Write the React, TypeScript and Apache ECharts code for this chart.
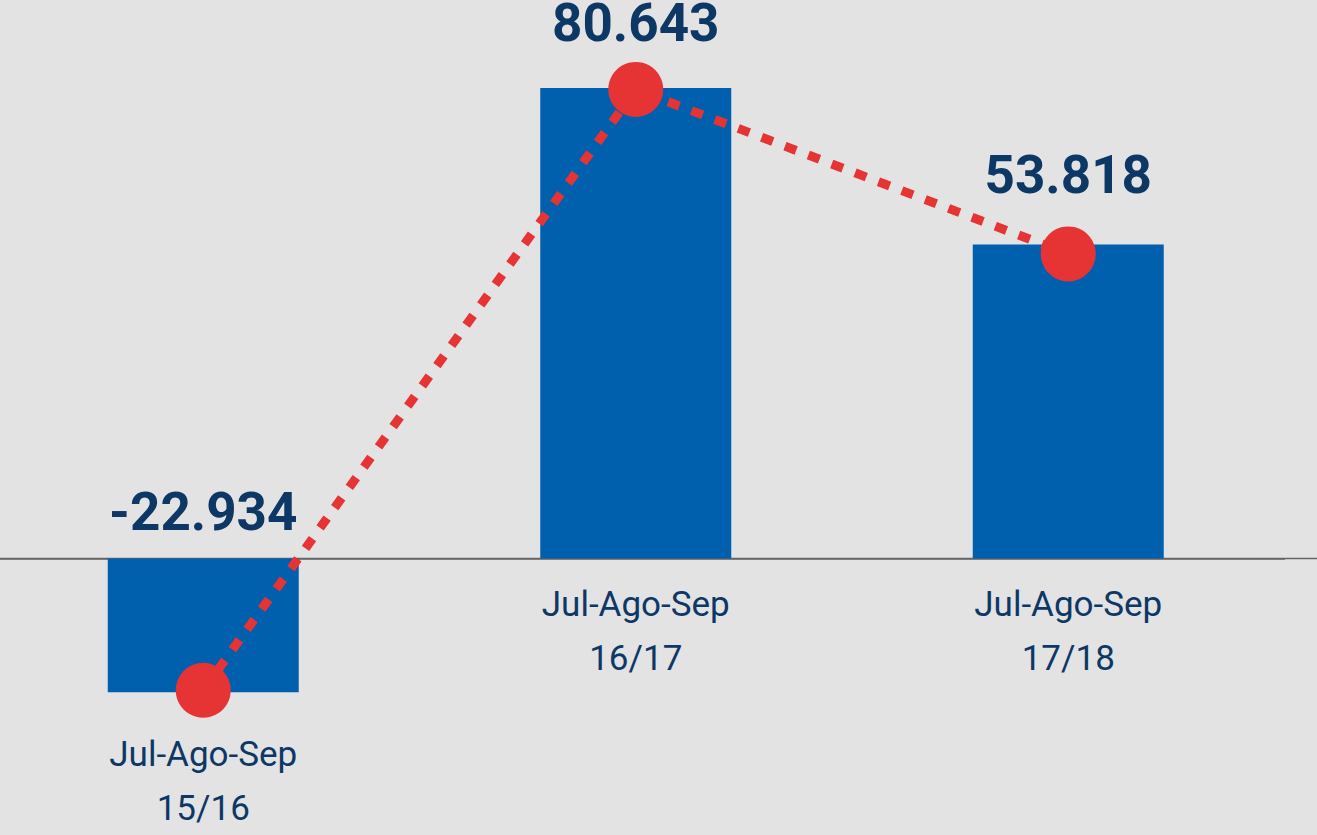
import React, { useEffect, useRef } from "react";
import * as echarts from "echarts";

const categories = ["Jul-Ago-Sep\n15/16", "Jul-Ago-Sep\n16/17", "Jul-Ago-Sep\n17/18"];
const barValues = [-22934, 80643, 53818];
const lineValues = [-22600, 80400, 52200];

const fmt = (n: number) => (n < 0 ? "-" : "") + String(Math.abs(n)).replace(/\B(?=(\d{3})+(?!\d))/g, ".");

export default function App() {
  const ref = useRef<HTMLDivElement>(null);
  useEffect(() => {
    document.body.style.overflow = "hidden";
    if (!ref.current) return;
    const chart = echarts.init(ref.current, null, { renderer: "svg" });
    const catDist = [35, 19, 19];
    const valDist = [24, 43, 47];
    chart.setOption({
      animation: false,
      backgroundColor: "#e3e3e3",
      grid: { left: 0, top: 33.4, width: 1297.5, height: 758.4 },
      xAxis: {
        type: "category",
        data: categories,
        axisLabel: { show: false },
        axisTick: { show: false },
        axisLine: { show: true, onZero: true, lineStyle: { color: "#666", width: 1.5 } },
      },
      yAxis: { type: "value", min: -40000, max: 90000, show: false, splitLine: { show: false } },
      series: [
        {
          type: "bar",
          barWidth: 191,
          itemStyle: { color: "#0060ae" },
          z: 1,
          data: barValues.map((v, i) => ({ value: v, label: { distance: catDist[i] } })),
          label: {
            show: true,
            position: "bottom",
            formatter: "{b}",
            color: "#0d3866",
            fontFamily: "Roboto",
            fontSize: 35,
            lineHeight: 54,
          },
        },
        {
          type: "bar",
          barWidth: 191,
          barGap: "-100%",
          itemStyle: { color: "transparent" },
          z: 5,
          silent: true,
          data: barValues.map((v, i) => ({ value: v, label: { distance: valDist[i] } })),
          label: {
            show: true,
            position: "top",
            formatter: (p: any) => fmt(p.value),
            color: "#0d3866",
            fontFamily: "Roboto",
            fontWeight: "bold",
            fontSize: 53,
            lineHeight: 44,
          },
        },
        {
          type: "line",
          data: lineValues,
          z: 3,
          symbol: "circle",
          symbolSize: 55,
          itemStyle: { color: "#e63434" },
          lineStyle: { color: "#e63434", width: 9, type: [12, 13], cap: "butt" },
        },
      ],
    });
    const y = chart.convertToPixel({ yAxisIndex: 0 }, 0) as number;
    chart.setOption({
      graphic: [
        {
          type: "line",
          z: 0,
          shape: { x1: 0, y1: y, x2: 1330, y2: y },
          style: { stroke: "#666", lineWidth: 1.5 },
        },
      ],
    });
    return () => chart.dispose();
  }, []);
  return <div ref={ref} style={{ position: "fixed", left: -13, top: 0, width: 1330, height: 835 }} />;
}
